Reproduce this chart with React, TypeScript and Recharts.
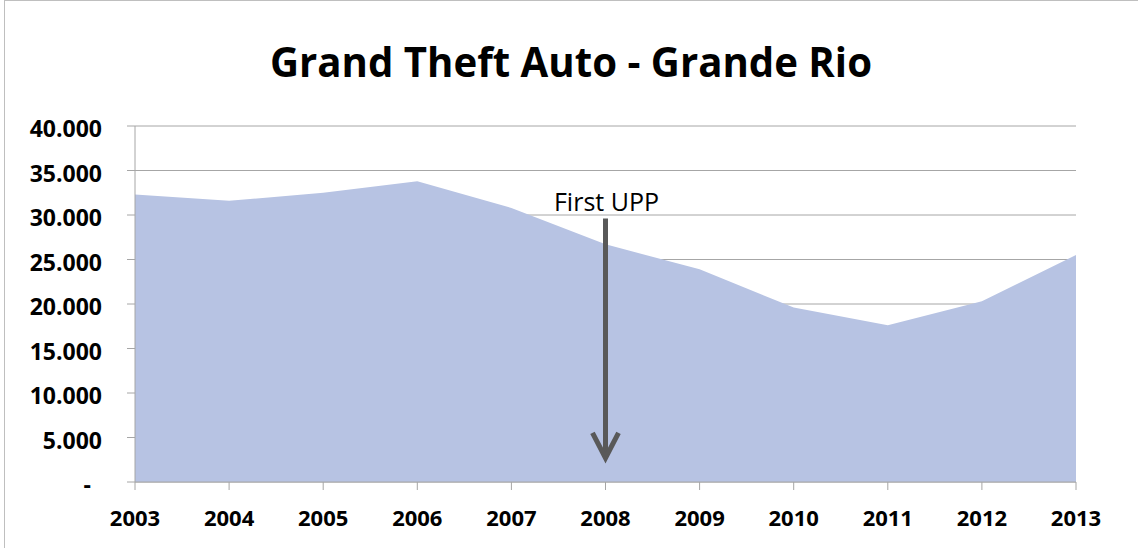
import React from 'react'
import { AreaChart, Area, XAxis, YAxis, CartesianGrid, ReferenceLine } from 'recharts'

// Grand theft auto, Grande Rio, per year
const years = ['2003', '2004', '2005', '2006', '2007', '2008', '2009', '2010', '2011', '2012', '2013']
const thefts = [32300, 31600, 32500, 33800, 30800, 26700, 23900, 19600, 17600, 20300, 25500]
const yTicks = [0, 5000, 10000, 15000, 20000, 25000, 30000, 35000, 40000]

// annotation: arrow at the first UPP year
const upp = { year: '2008', label: 'First UPP', from: 29600, to: 2700 }

const chartData = years.map((year, i) => ({ year, thefts: thefts[i] }))

const FONT = '"Open Sans", sans-serif'

const fmtThousands = (v: number) => (v === 0 ? '-' : String(v).replace(/\B(?=(\d{3})+(?!\d))/g, '.'))

const YTick = (props: any) => {
    const { x, y, payload } = props
    const zero = payload.value === 0
    return (
        <text x={zero ? x - 34 : x - 23} y={y + 11} textAnchor="end" fontFamily={FONT} fontSize={23} fontWeight={700} fill="#000">
            {fmtThousands(payload.value)}
        </text>
    )
}

const XTick = (props: any) => {
    const { x, y, payload } = props
    return (
        <text x={x} y={y + 34} textAnchor="middle" fontFamily={FONT} fontSize={22} fontWeight={700} fill="#000">
            {payload.value}
        </text>
    )
}

const ArrowShape = (props: any) => {
    const { x1, y1, y2 } = props
    const head = 25
    const half = 13
    return (
        <g>
            <text x={x1 + 1} y={y1 - 8} textAnchor="middle" fontFamily={FONT} fontSize={25} fill="#000">
                {upp.label}
            </text>
            <line x1={x1} y1={y1} x2={x1} y2={y2 - 3} stroke="#595959" strokeWidth={5} />
            <polyline
                points={`${x1 - half},${y2 - head} ${x1},${y2} ${x1 + half},${y2 - head}`}
                fill="none"
                stroke="#595959"
                strokeWidth={5}
                strokeLinejoin="miter"
            />
        </g>
    )
}

export default function App() {
    return (
        <div style={{ position: 'fixed', left: 0, top: 0, width: 1138, height: 548, overflow: 'hidden', background: '#fff' }}>
            <div style={{ position: 'absolute', left: 4, top: 0, width: 1200, height: 600, borderLeft: '1px solid #bfbfbf', borderTop: '1px solid #bfbfbf' }} />
            <svg width={1138} height={110} style={{ position: 'absolute', left: 0, top: 0 }}>
                <text x={571} y={77} textAnchor="middle" fontFamily={FONT} fontSize={41} fontWeight={700} fill="#000" textLength={602} lengthAdjust="spacingAndGlyphs">
                    Grand Theft Auto - Grande Rio
                </text>
            </svg>
            <div style={{ position: 'absolute', left: 0, top: 0 }}>
                <AreaChart width={1138} height={548} data={chartData} margin={{ top: 126, right: 62, left: 0, bottom: 6 }}>
                    <CartesianGrid vertical={false} stroke="#a6a6a6" />
                    <XAxis
                        dataKey="year"
                        height={60}
                        tickSize={8}
                        tick={<XTick />}
                        axisLine={{ stroke: '#a6a6a6' }}
                        tickLine={{ stroke: '#a6a6a6' }}
                        interval={0}
                    />
                    <YAxis
                        width={135}
                        domain={[0, 40000]}
                        ticks={yTicks}
                        tickSize={8}
                        tick={<YTick />}
                        axisLine={{ stroke: '#a6a6a6' }}
                        tickLine={{ stroke: '#a6a6a6' }}
                        interval={0}
                    />
                    <Area type="linear" dataKey="thefts" stroke="none" fill="#b7c3e3" fillOpacity={1} isAnimationActive={false} />
                    <ReferenceLine
                        segment={[
                            { x: upp.year, y: upp.from },
                            { x: upp.year, y: upp.to }
                        ]}
                        shape={<ArrowShape />}
                        ifOverflow="visible"
                    />
                </AreaChart>
            </div>
        </div>
    )
}
